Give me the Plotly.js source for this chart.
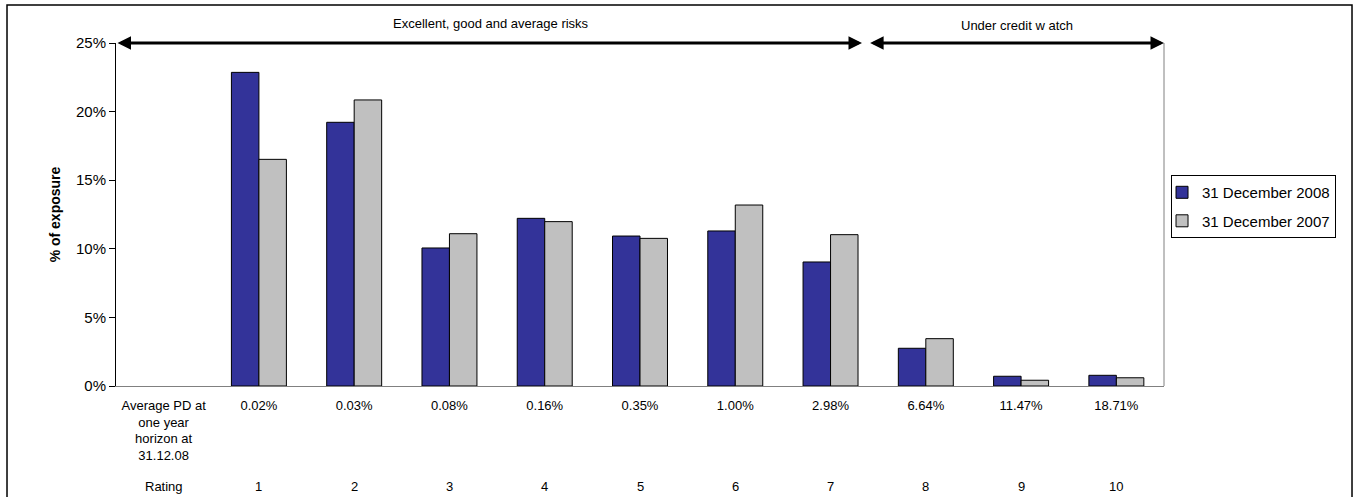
<!DOCTYPE html>
<html><head><meta charset="utf-8">
<script src="https://cdn.plot.ly/plotly-3.0.1.min.js"></script>
<style>html,body{margin:0;padding:0;background:#fff;}#chart{width:1356px;height:497px;}</style>
</head><body><div id="chart"></div>
<script>
// ---- data ----
const pdLabels = ['Average PD at<br>one year<br>horizon at<br>31.12.08', '0.02%', '0.03%', '0.08%', '0.16%', '0.35%', '1.00%', '2.98%', '6.64%', '11.47%', '18.71%'];
const ratingLabels = ['Rating', '1', '2', '3', '4', '5', '6', '7', '8', '9', '10'];
const ratings = [1, 2, 3, 4, 5, 6, 7, 8, 9, 10];
const exposure2008 = [22.86, 19.22, 10.06, 12.22, 10.93, 11.30, 9.04, 2.75, 0.71, 0.78];
const exposure2007 = [16.52, 20.85, 11.10, 11.98, 10.76, 13.19, 11.03, 3.45, 0.42, 0.60];
const seriesNames = ['31 December 2008', '31 December 2007'];
const bandLabels = ['Excellent, good and average risks', 'Under credit w atch'];
const yTicks = [0, 5, 10, 15, 20, 25];
const yTickText = ['0%', '5%', '10%', '15%', '20%', '25%'];

const FONT = 'Liberation Sans, Arial, Helvetica, sans-serif';
const tickPos = pdLabels.map((_, i) => i);

const traces = [
  {type: 'bar', name: seriesNames[0], x: ratings, y: exposure2008, legendgroup: 'a',
   marker: {color: '#333399', line: {color: '#000000', width: 1}}, hoverinfo: 'x+y'},
  {type: 'bar', name: seriesNames[1], x: ratings, y: exposure2007, legendgroup: 'b',
   marker: {color: '#C0C0C0', line: {color: '#000000', width: 1}}, hoverinfo: 'x+y'}
];

const annotations = [];
ratingLabels.forEach((t, i) => annotations.push({
  x: i, xref: 'x', y: -0.294, yref: 'paper', text: t, showarrow: false,
  yanchor: 'middle', xanchor: 'center', font: {family: FONT, size: 13, color: '#000'}
}));
// band labels
annotations.push({x: 3.44, xref: 'x', y: 1.058, yref: 'paper', text: bandLabels[0], showarrow: false,
  yanchor: 'middle', font: {family: FONT, size: 13, color: '#000'}});
annotations.push({x: 8.96, xref: 'x', y: 1.05, yref: 'paper', text: bandLabels[1], showarrow: false,
  yanchor: 'middle', font: {family: FONT, size: 13, color: '#000'}});
// band arrows
[[-0.5, 7.33], [7.40, 10.5]].forEach(([a, b]) => annotations.push({
  x: b, y: 25, xref: 'x', yref: 'y', ax: a, ay: 25, axref: 'x', ayref: 'y', text: '',
  showarrow: true, arrowside: 'end+start', arrowhead: 2, arrowsize: 0.9, arrowwidth: 3, arrowcolor: '#000'
}));

const layout = {
  width: 1356, height: 497,
  margin: {l: 116, r: 192, t: 43, b: 111},
  paper_bgcolor: '#ffffff', plot_bgcolor: '#ffffff',
  font: {family: FONT, size: 13, color: '#000'},
  barmode: 'group', bargap: 0.423, bargroupgap: 0,
  showlegend: true,
  legend: {x: 1.0067, xanchor: 'left', y: 0.615, yanchor: 'top',
    bordercolor: '#000', borderwidth: 1, bgcolor: '#fff',
    font: {family: FONT, size: 15, color: '#000'}, tracegroupgap: 6, indentation: -10},
  xaxis: {type: 'linear', range: [-0.5, 10.5], tickvals: tickPos, ticktext: pdLabels,
    showgrid: false, zeroline: false, showline: true, linecolor: '#808080', linewidth: 1,
    ticks: '', ticklabelstandoff: 7, tickfont: {family: FONT, size: 13, color: '#000'}, fixedrange: true},
  yaxis: {range: [0, 25], tickmode: 'array', tickvals: yTicks, ticktext: yTickText, showgrid: false, zeroline: false,
    showline: true, linecolor: '#000', linewidth: 1, ticks: 'outside', ticklen: 6, tickcolor: '#000',
    tickfont: {family: FONT, size: 15, color: '#000'},
    title: {text: '<b>% of exposure</b>', font: {family: FONT, size: 14, color: '#000'}, standoff: 12},
    fixedrange: true},
  annotations: annotations,
  shapes: [
    {type: 'line', xref: 'paper', yref: 'paper', x0: 1, x1: 1, y0: 0, y1: 1, line: {color: '#808080', width: 1}},
    {type: 'rect', xref: 'paper', yref: 'paper', x0: -0.104, x1: 1.1794, y0: -0.4, y1: 1.1108,
     line: {color: '#000', width: 1.5}, fillcolor: 'rgba(0,0,0,0)'}
  ]
};

Plotly.newPlot('chart', traces, layout, {displayModeBar: false, staticPlot: true});
</script>
</body></html>
